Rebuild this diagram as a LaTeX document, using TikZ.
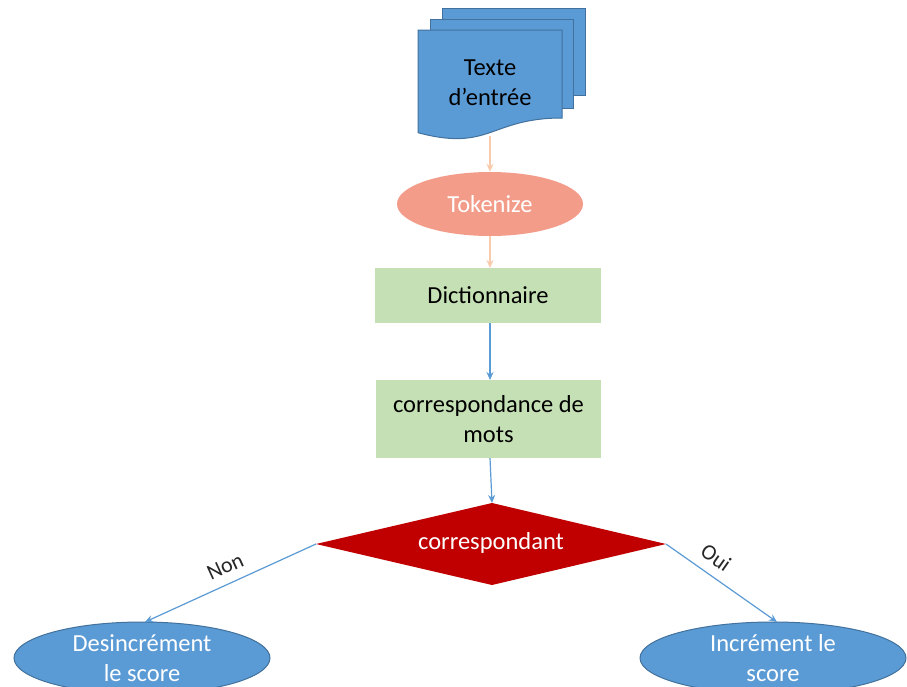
\documentclass[tikz,border=0pt]{standalone}
\usepackage{fontspec}
\setmainfont{Carlito}
\usetikzlibrary{shapes.geometric,arrows.meta}
\definecolor{docblue}{HTML}{5B9BD5}
\definecolor{docedge}{HTML}{41719C}
\definecolor{salmon}{HTML}{F39C89}
\definecolor{peach}{HTML}{F8CBAD}
\definecolor{lightgreen}{HTML}{C5E0B4}
\definecolor{darkred}{HTML}{C00000}
\tikzset{
  txt/.style={font=\fontsize{24.5}{30}\selectfont, align=center},
  page/.style={fill=docblue, draw=docedge, line width=1pt},
  procbox/.style={txt, rectangle, fill=lightgreen, draw=none, inner sep=0pt},
  blueflow/.style={draw=docblue, line width=1.2pt, -{Stealth[length=8pt,width=7pt]}},
  peachflow/.style={draw=peach, line width=1.2pt, -{Stealth[length=8pt,width=7pt]}},
  scoreell/.style={txt, ellipse, fill=docblue, draw=docedge, line width=1pt, text=white, inner sep=0pt},
  branchlbl/.style={sloped, above=6pt, font=\fontsize{22}{26}\selectfont, text=black!85}
}
\begin{document}
\begin{tikzpicture}[x=1pt,y=-1pt]
\useasboundingbox (0,0) rectangle (907,686);
\clip (0,0) rectangle (907,686);
\fill[white] (0,0) rectangle (907,686);

% stacked input documents
\draw[page] (442,8) rectangle (585,95);
\draw[page] (430,19) rectangle (573,108);
\draw[page] (418,30) -- (562,30) -- (562,118)
  .. controls (490,118) and (490,152) .. (418,132.7) -- cycle;
\node[txt, text=black] (doc) at (490,83) {Texte\\d’entrée};
\coordinate (docbot) at (490,136);

% tokenizer
\node[txt, ellipse, fill=salmon, draw=none, text=white,
      minimum width=186pt, minimum height=64pt, inner sep=0pt] (tok) at (490,204) {Tokenize};

% processing boxes
\node[procbox, minimum width=226pt, minimum height=55pt] (dict) at (488,295.5) {Dictionnaire};
\node[procbox, minimum width=225pt, minimum height=78pt] (match) at (488.5,419) {correspondance de\\mots};

% decision
\coordinate (dtop) at (492,503);
\coordinate (dleft) at (316,544);
\coordinate (dright) at (666,544);
\coordinate (dbot) at (492,585);
\fill[darkred] (dtop) -- (dright) -- (dbot) -- (dleft) -- cycle;
\node[txt, text=white] (dec) at (491,543) {correspondant};

% outcomes
\node[scoreell, minimum width=256pt, minimum height=72pt] (dec1) at (142,658) {Desincrément\\le score};
\node[scoreell, minimum width=266pt, minimum height=72pt] (inc1) at (773,658) {Incrément le\\score};

% connectors
\draw[peachflow] (docbot) -- (tok.north);
\draw[peachflow] (tok.south) -- (490,268);
\draw[blueflow] (490,323) -- (490,380);
\draw[blueflow] (490,458) -- (dtop);
\draw[blueflow] (dleft) -- (145,622) node[pos=0.49, branchlbl] {Non};
\draw[blueflow] (dright) -- (777,622) node[pos=0.36, branchlbl] {Oui};
\end{tikzpicture}
\end{document}
